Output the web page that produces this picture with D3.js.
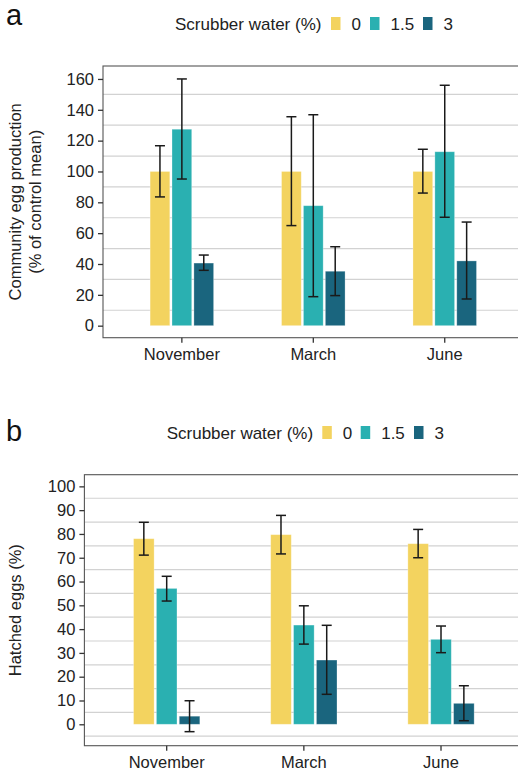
<!DOCTYPE html>
<html>
<head>
<meta charset="utf-8">
<script src="https://cdn.jsdelivr.net/npm/d3@7"></script>
<style>
  html, body { margin: 0; padding: 0; background: #fff; }
  svg { display: block; overflow: hidden; }
  text { font-family: "Liberation Sans", Arial, sans-serif; }
</style>
</head>
<body>
<svg id="chart" width="518" height="774"></svg>
<script>
// ---------- DATA ----------
const months = ["November", "March", "June"];
const treatments = ["0", "1.5", "3"];
const legendTitle = "Scrubber water (%)";

// Panel a: community egg production (% of control mean); rows = months, cols = treatments
const prodMean = [[100, 127.4, 40.6], [100, 77.8, 35.3], [100, 112.8, 42.0]];
const prodLow  = [[83.5, 95.1, 35.9], [64.9, 18.8, 19.5], [86.0, 70.3, 17.3]];
const prodHigh = [[116.7, 160.0, 45.8], [135.5, 136.8, 51.2], [114.4, 155.9, 67.2]];
const prodTicks = [0, 20, 40, 60, 80, 100, 120, 140, 160];
const prodGrid  = [10, 30, 50, 70, 90, 110, 130, 150];

// Panel b: hatched eggs (%)
const hatchMean = [[78.0, 57.1, 3.4], [79.7, 41.7, 27.0], [75.9, 35.7, 8.8]];
const hatchLow  = [[71.1, 51.8, -3.1], [71.6, 33.7, 12.6], [70.0, 30.1, 1.5]];
const hatchHigh = [[84.9, 62.2, 9.9], [87.8, 49.8, 41.6], [81.9, 41.3, 16.2]];
const hatchTicks = [0, 10, 20, 30, 40, 50, 60, 70, 80, 90, 100];
const hatchGrid  = [-5, 5, 15, 25, 35, 45, 55, 65, 75, 85, 95];

const colors = ["#F3D35F", "#2AB0B1", "#1A657E"];

// ---------- DRAW ----------
const svg = d3.select("#chart");
const FS = 16.5;
const LFS = 17;

function panel(cfg) {
  const g = svg.append("g");
  const x = d3.scaleBand().domain(months).range([cfg.left, cfg.right])
    .paddingInner(0).paddingOuter(0.1);
  const dodge = d3.scaleBand().domain(treatments)
    .range([x.bandwidth() * 0.25, x.bandwidth() * 0.75])
    .paddingInner(0.1).paddingOuter(0.05);
  const y = d3.scaleLinear().domain(cfg.domain).range([cfg.bottom, cfg.top]);

  // grid
  g.selectAll("line.grid").data(cfg.grid).join("line")
    .attr("class", "grid")
    .attr("x1", cfg.left).attr("x2", cfg.right)
    .attr("y1", d => y(d)).attr("y2", d => y(d))
    .attr("stroke", "#D2D2D2").attr("stroke-width", 1.2);

  // bars
  const rows = months.map((m, i) => treatments.map((t, j) => ({
    m, t, j, v: cfg.mean[i][j], lo: cfg.low[i][j], hi: cfg.high[i][j]
  }))).flat();

  g.selectAll("rect.bar").data(rows).join("rect")
    .attr("class", "bar")
    .attr("x", d => x(d.m) + dodge(d.t))
    .attr("width", dodge.bandwidth())
    .attr("y", d => Math.min(y(d.v), y(0)))
    .attr("height", d => Math.abs(y(0) - y(d.v)))
    .attr("fill", d => colors[d.j])
    .attr("stroke", "rgba(255,255,255,0.35)").attr("stroke-width", 0.8);

  // error bars
  const capW = 10;
  const eb = g.selectAll("g.eb").data(rows).join("g").attr("class", "eb")
    .attr("transform", d => `translate(${x(d.m) + dodge(d.t) + dodge.bandwidth() / 2},0)`);
  eb.append("line").attr("x1", 0).attr("x2", 0)
    .attr("y1", d => y(d.lo)).attr("y2", d => y(d.hi));
  eb.append("line").attr("x1", -capW / 2).attr("x2", capW / 2)
    .attr("y1", d => y(d.lo)).attr("y2", d => y(d.lo));
  eb.append("line").attr("x1", -capW / 2).attr("x2", capW / 2)
    .attr("y1", d => y(d.hi)).attr("y2", d => y(d.hi));
  eb.selectAll("line").attr("stroke", "#1a1a1a").attr("stroke-width", 1.5);

  // panel border
  g.append("rect")
    .attr("x", cfg.left).attr("y", cfg.top)
    .attr("width", cfg.right - cfg.left).attr("height", cfg.bottom - cfg.top)
    .attr("fill", "none").attr("stroke", "#555").attr("stroke-width", 1.1);

  // axes
  const yAxis = g.append("g").attr("transform", `translate(${cfg.left},0)`)
    .call(d3.axisLeft(y).tickValues(cfg.ticks).tickSize(5).tickPadding(4));
  yAxis.select(".domain").remove();
  yAxis.selectAll(".tick line").attr("stroke", "#333").attr("stroke-width", 1.3);
  yAxis.selectAll(".tick text").attr("font-size", FS).attr("fill", "#222")
    .style("font-family", "Liberation Sans, Arial, sans-serif");

  const xAxis = g.append("g").attr("transform", `translate(0,${cfg.bottom})`)
    .call(d3.axisBottom(x).tickSize(5).tickPadding(6));
  xAxis.select(".domain").remove();
  xAxis.selectAll(".tick line").attr("stroke", "#333").attr("stroke-width", 1.3);
  xAxis.selectAll(".tick text").attr("font-size", FS).attr("fill", "#222")
    .style("font-family", "Liberation Sans, Arial, sans-serif");

  // y title
  const yt = g.append("text")
    .attr("transform", `translate(0,${(cfg.top + cfg.bottom) / 2}) rotate(-90)`)
    .attr("text-anchor", "middle").attr("font-size", FS).attr("fill", "#222");
  cfg.yTitle.forEach((line, i) => {
    yt.append("tspan").attr("x", 0).attr("y", cfg.yTitleX[i]).text(line);
  });

  // panel letter
  svg.append("text").attr("x", 6).attr("y", cfg.letterY)
    .attr("font-size", 29).attr("fill", "#111").text(cfg.letter);

  // legend
  const lg = svg.append("g");
  lg.append("text").attr("x", cfg.legX).attr("y", cfg.legY)
    .attr("font-size", LFS).attr("fill", "#222").text(legendTitle);
  treatments.forEach((t, j) => {
    lg.append("rect").attr("x", cfg.keyX[j]).attr("y", cfg.legY - 12.5)
      .attr("width", 9.5).attr("height", 13).attr("fill", colors[j]);
    lg.append("text").attr("x", cfg.keyX[j] + 20.5).attr("y", cfg.legY)
      .attr("font-size", LFS).attr("fill", "#222").text(t);
  });
}

panel({
  left: 103, right: 523.6, top: 66, bottom: 337.7,
  domain: [-7.8, 168.4],
  mean: prodMean, low: prodLow, high: prodHigh,
  ticks: prodTicks, grid: prodGrid,
  yTitle: ["Community egg production", "(% of control mean)"],
  yTitleX: [21, 40.5],
  letter: "a", letterY: 25,
  legX: 175, legY: 29.5, keyX: [331, 370, 423]
});

panel({
  left: 84.4, right: 523.3, top: 474.7, bottom: 745.7,
  domain: [-9, 104.9],
  mean: hatchMean, low: hatchLow, high: hatchHigh,
  ticks: hatchTicks, grid: hatchGrid,
  yTitle: ["Hatched eggs (%)"],
  yTitleX: [20.5],
  letter: "b", letterY: 441,
  legX: 166.7, legY: 438.5, keyX: [322.3, 360.7, 414]
});
</script>
</body>
</html>
